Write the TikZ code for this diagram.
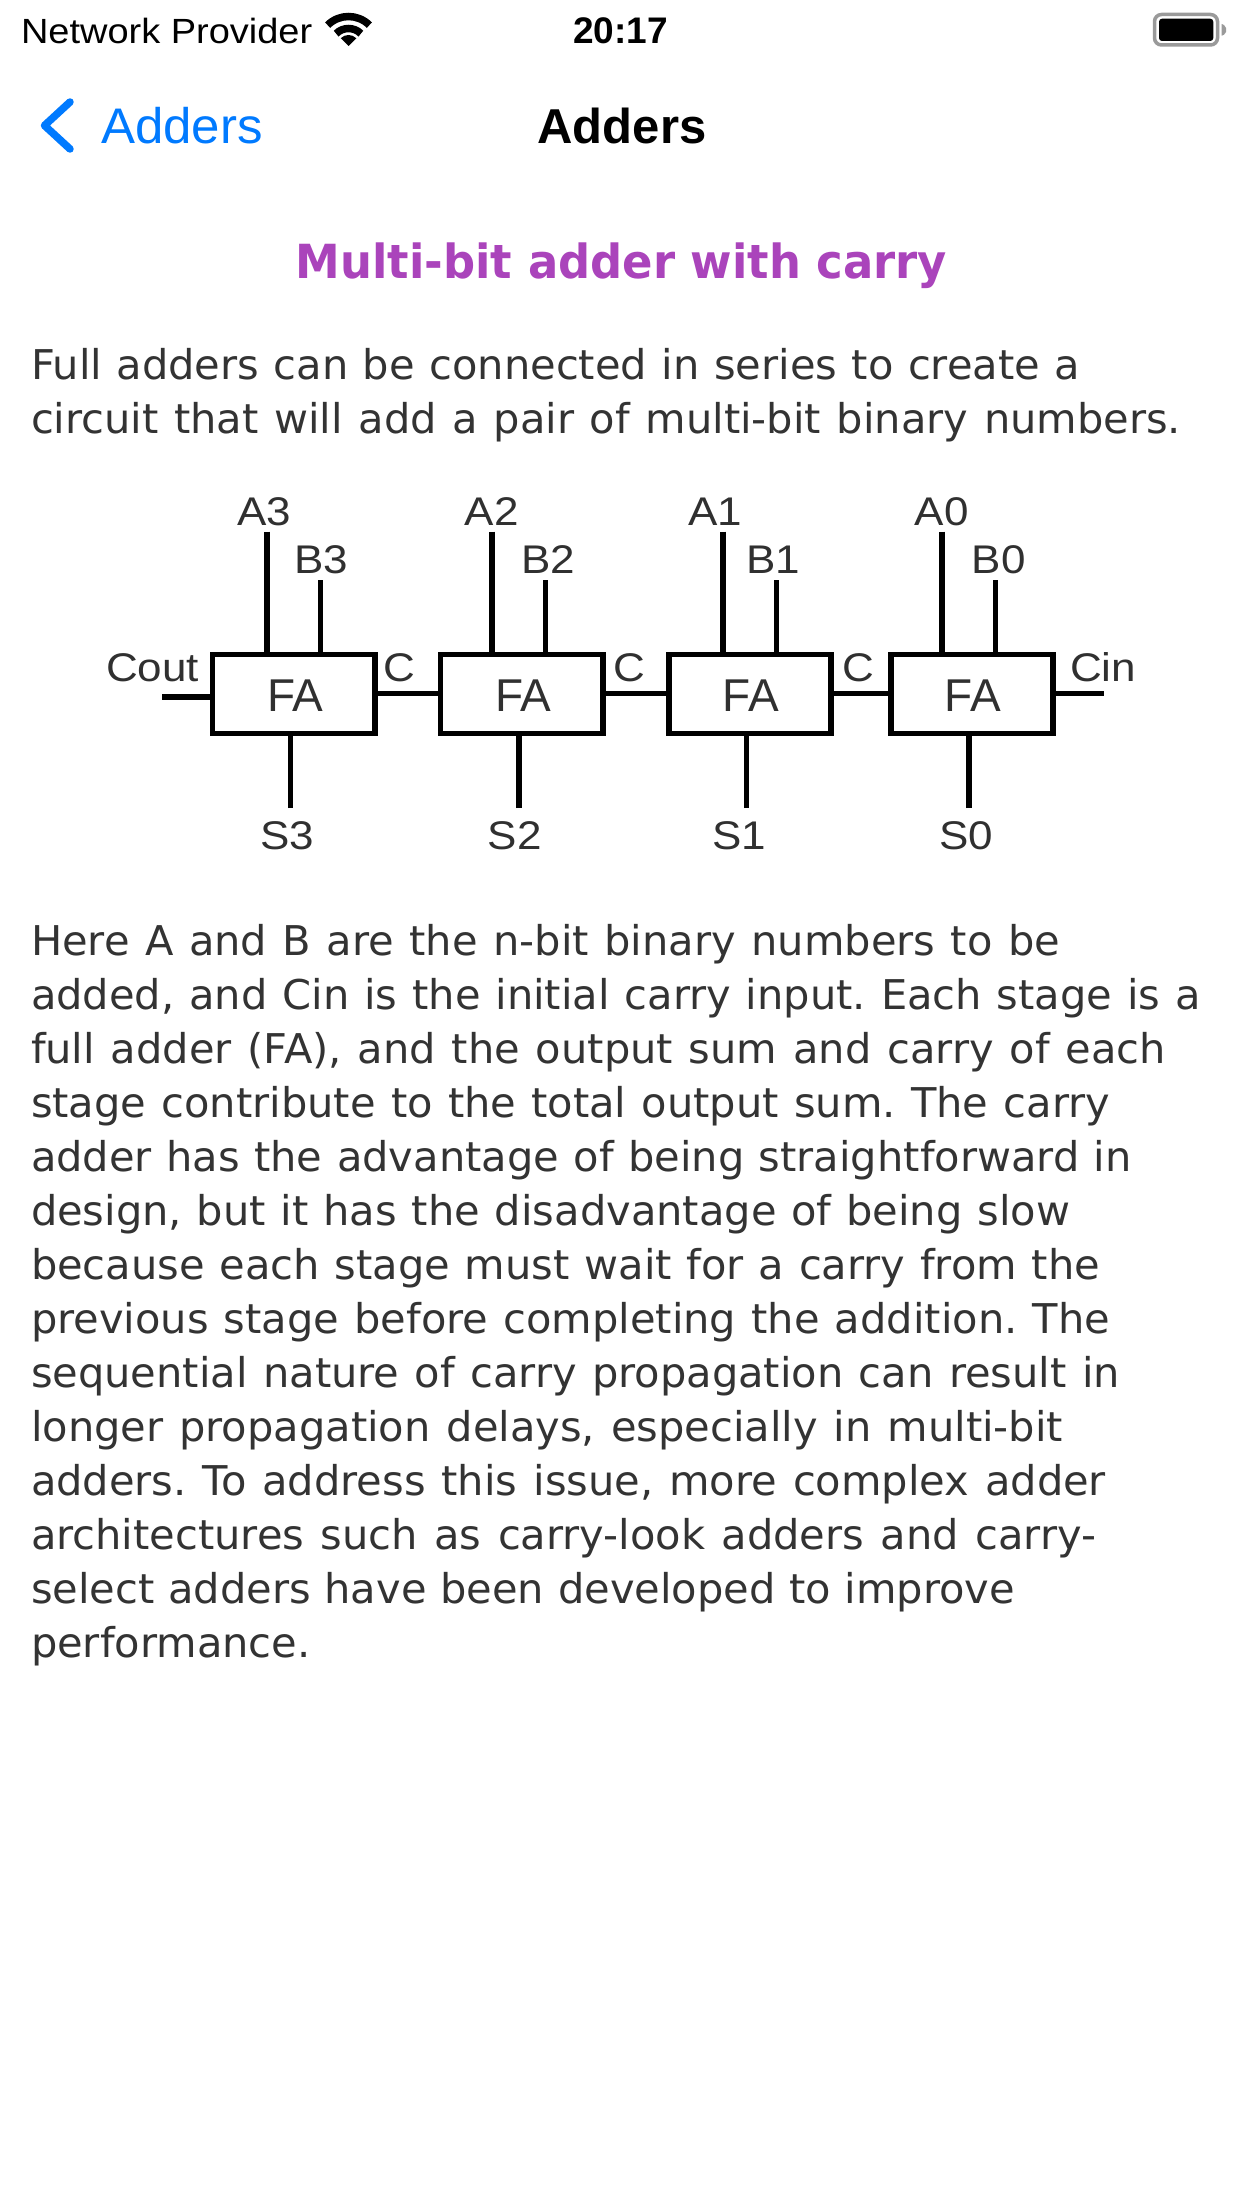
\documentclass[tikz,border=0pt]{standalone}
\usepackage{fontspec}
\setmainfont{Liberation Sans}
\newfontfamily\bodyfam[FakeStretch=1.014]{DejaVu Sans}
\newfontfamily\headfam[FakeStretch=0.955]{DejaVu Sans}
\newfontfamily\uifam{Liberation Sans}
\newfontfamily\statfam[FakeStretch=1.085]{Liberation Sans}
\newfontfamily\backfam[FakeStretch=1.02]{Liberation Sans}
\newfontfamily\labfam[FakeStretch=1.1]{Liberation Sans}
\definecolor{iosblue}{HTML}{007AFF}
\definecolor{bodytxt}{HTML}{333333}
\definecolor{titlepurple}{HTML}{AA44BB}
\definecolor{labtxt}{HTML}{303030}
\definecolor{batgray}{HTML}{9A9A9A}
\newcommand{\fsz}[1]{\fontsize{#1}{#1}\selectfont}
\newcommand{\fitline}[2]{\hbox to \dimexpr#1pt+3pt\relax{\spaceskip=.3em plus 1em\relax #2}}
\hbadness=10000
\frenchspacing
\tikzset{
  x=1pt,y=-1pt,
  txt/.style={inner sep=0pt,outer sep=0pt,anchor=base},
  bodyline/.style={txt,anchor=base west,text=bodytxt,font=\frenchspacing\bodyfam\fsz{41}},
  lab/.style={txt,text=labtxt,font=\labfam\fsz{40}},
  falab/.style={txt,text=labtxt,font=\uifam\fsz{46}},
  fabox/.style={draw=black,line width=5.8pt,fill=white,rectangle,inner sep=0pt,minimum width=162.5pt,minimum height=79pt},
  wire/.style={draw=black,line width=5.4pt},
}
\begin{document}
\begin{tikzpicture}
\useasboundingbox[fill=white] (0,0) rectangle (1242,2208);
% status bar
\node[txt,anchor=base west,font=\statfam\fsz{35},text=black] (net) at (21,43.3) {Network Provider};
\node[txt,font=\uifam\bfseries\fsz{37},text=black] (time) at (620.5,43.3) {20:17};
\coordinate (wifi) at (348.5,46);
\fill (wifi) -- ++(45:11pt) arc[start angle=45,end angle=135,radius=11pt] -- cycle;
\draw[line width=7.5pt] (wifi) ++(45:17.5pt) arc[start angle=45,end angle=135,radius=17.5pt];
\draw[line width=7.5pt] (wifi) ++(45:29.5pt) arc[start angle=45,end angle=135,radius=29.5pt];
\draw[batgray,line width=3.5pt,rounded corners=7pt] (1154.5,14.5) rectangle (1217.5,45);
\fill[black,rounded corners=3pt] (1159,18.7) rectangle (1213.3,41);
\fill[batgray] (1221.7,24) -- (1224,25) -- (1226,28) -- (1226,32) -- (1224,34.7) -- (1221.7,35.7) -- cycle;
% nav bar
\draw[iosblue,line width=7.5pt,line cap=round,line join=round] (70,102) -- (44.5,125.5) -- (70,149);
\node[txt,anchor=base west,font=\backfam\fsz{50},text=iosblue] (back) at (101,143.3) {Adders};
\node[txt,font=\uifam\bfseries\fsz{49},text=black] (navtitle) at (622,143.3) {Adders};
% heading
\node[txt,font=\headfam\bfseries\fsz{47},text=titlepurple] (head) at (621.5,278.5) {Multi-bit adder with carry};
% intro
\node[bodyline] (l1) at (31,379.3) {\fitline{1046}{Full adders can be connected in series to create a}};
\node[bodyline] (l2) at (31,433.3) {\fitline{1147}{circuit that will add a pair of multi-bit binary numbers.}};
% adder boxes
\node[fabox] (fa3) at (293.75,694) {};
\node[fabox] (fa2) at (521.75,694) {};
\node[fabox] (fa1) at (750,694) {};
\node[fabox] (fa0) at (972,694) {};
\node[falab] (t3) at (295.5,711) {FA};
\node[falab] (t2) at (523.4,711) {FA};
\node[falab] (t1) at (751,711) {FA};
\node[falab] (t0) at (973,711) {FA};
% free ends
\coordinate (a3) at (266.8,531.7); \coordinate (b3) at (320.7,580); \coordinate (s3) at (290.7,808);
\coordinate (a2) at (491.8,531.7); \coordinate (b2) at (545.7,580); \coordinate (s2) at (519,808);
\coordinate (a1) at (722.9,531.7); \coordinate (b1) at (776.4,580); \coordinate (s1) at (746.4,808);
\coordinate (a0) at (941.8,531.7); \coordinate (b0) at (995.7,580); \coordinate (s0) at (969,808);
\coordinate (cout) at (162,697); \coordinate (cin) at (1103.6,693.7);
\foreach \n in {3,2,1,0}{
  \draw[wire] (a\n) -- (a\n |- fa\n.north);
  \draw[wire] (b\n) -- (b\n |- fa\n.north);
  \draw[wire] (s\n) -- (s\n |- fa\n.south);
}
\draw[wire] (cout) -- (cout -| fa3.west);
\draw[wire] (fa3.east |- 0,693.7) -- (fa2.west |- 0,693.7);
\draw[wire] (fa2.east |- 0,693.7) -- (fa1.west |- 0,693.7);
\draw[wire] (fa1.east |- 0,693.7) -- (fa0.west |- 0,693.7);
\draw[wire] (fa0.east |- cin) -- (cin);
% labels
\node[lab] (la3) at (264.5,525) {A3}; \node[lab] (lb3) at (321,573) {B3}; \node[lab] (ls3) at (287.5,849) {S3};
\node[lab] (la2) at (491.6,525) {A2}; \node[lab] (lb2) at (548,573) {B2}; \node[lab] (ls2) at (514.8,849) {S2};
\node[lab] (la1) at (715.4,525) {A1}; \node[lab] (lb1) at (773,573) {B1}; \node[lab] (ls1) at (739,849) {S1};
\node[lab] (la0) at (941.8,525) {A0}; \node[lab] (lb0) at (998.6,573) {B0}; \node[lab] (ls0) at (965.9,849) {S0};
\node[lab] (lcout) at (152.5,681.5) {Cout};
\node[lab] (lc3) at (399.5,681.5) {C};
\node[lab] (lc2) at (629,681.5) {C};
\node[lab] (lc1) at (858,681.5) {C};
\node[lab] (lcin) at (1103,681.5) {Cin};
% body
\foreach \w/\t [count=\i from 0] in {
 1026/{Here A and B are the n-bit binary numbers to be},
 1166.6/{added, and Cin is the initial carry input. Each stage is a},
 1131.8/{full adder (FA), and the output sum and carry of each},
 1076/{stage contribute to the total output sum. The carry},
 1097.7/{adder has the advantage of being straightforward in},
 1036/{design, but it has the disadvantage of being slow},
 1066/{because each stage must wait for a carry from the},
 1076/{previous stage before completing the addition. The},
 1085.8/{sequential nature of carry propagation can result in},
 1029/{longer propagation delays, especially in multi-bit},
 1072/{adders. To address this issue, more complex adder},
 1062/{architectures such as carry-look adders and carry-},
 981/{select adders have been developed to improve}}{
  \node[bodyline] (p\i) at (31,955+54*\i) {\fitline{\w}{\t}};
}
\node[bodyline] (p13) at (31,1657) {performance.};
\end{tikzpicture}
\end{document}
